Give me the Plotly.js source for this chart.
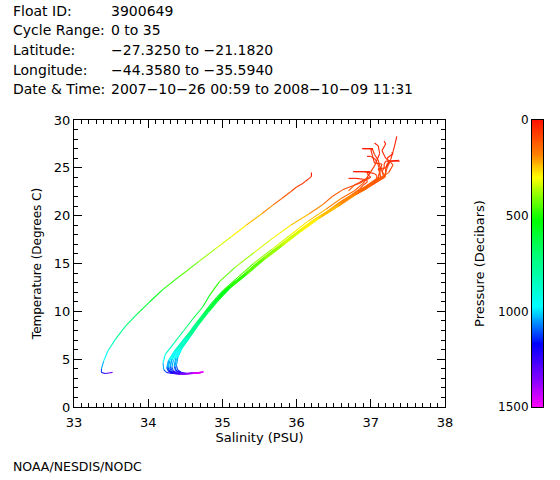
<!DOCTYPE html>
<html><head><meta charset="utf-8">
<script src="https://cdn.plot.ly/plotly-3.0.1.min.js"></script>
<style>html,body{margin:0;padding:0;background:#fff;}#chart{width:560px;height:480px;}</style>
</head><body><div id="chart"></div>
<script>
// Pressure levels (decibars) shared by the profiles
const PRES = [5,20,35,50,65,80,100,130,160,200,250,300,350,400,460,520,580,640,720,820,920,1000,1080,1150,1220,1290,1360,1430,1500];

const TEMP_L = [24.5,24.1,23.9,23.6,23.3,23.0,22.5,21.8,21.1,20.2,19.0,17.8,16.5,15.2,13.7,12.3,11.0,9.7,8.5,7.1,5.9,4.8,4.0,3.6,3.5,3.55,3.62];
const SAL_L  = [36.2,36.2,36.17,36.12,36.07,36.0,35.92,35.8,35.68,35.53,35.32,35.12,34.9,34.68,34.43,34.2,34.02,33.85,33.7,33.56,33.46,33.4,33.37,33.37,33.42,33.47,33.52];

const TEMP_M1 = [28.3,27.6,26.7,25.9,25.4,24.9,24.3,23.3,22.3,21.1,19.8,18.4,16.9,15.4,13.9,12.5,11.2,10.0,8.8,7.4,6.1,5.1,4.25,3.82,3.57,3.5,3.52,3.58,3.66];
const SAL_M1  = [37.35,37.33,37.3,37.27,37.22,37.2,37.2,37.0,36.79,36.56,36.29,36.04,35.79,35.54,35.31,35.09,34.93,34.8,34.68,34.55,34.43,34.37,34.35,34.37,34.42,34.5,34.58,34.66,34.74];
const TEMP_M2 = [27.0,27.0,26.4,25.8,25.2,24.7,24.1,23.1,22.1,20.9,19.6,18.2,16.7,15.2,13.7,12.3,11.0,9.8,8.6,7.2,5.9,4.9,4.15,3.78,3.54,3.47,3.49,3.54,3.6];
const SAL_M2  = [36.9,37.02,37.05,37.1,37.12,37.15,37.17,36.97,36.75,36.52,36.25,36.0,35.75,35.5,35.27,35.05,34.9,34.77,34.65,34.5,34.36,34.28,34.26,34.28,34.34,34.43,34.52,34.61,34.7];
const TEMP_M3 = [27.8,27.5,26.8,26.0,25.7,25.3,24.5,23.5,22.5,21.3,20.0,18.6,17.1,15.6,14.1,12.7,11.3,10.1,8.9,7.5,6.2,5.2,4.3,3.85,3.6,3.52,3.54,3.6,3.68];
const SAL_M3  = [37.18,37.2,37.15,37.2,37.25,37.3,37.24,37.04,36.83,36.6,36.33,36.08,35.83,35.57,35.34,35.12,34.95,34.82,34.7,34.58,34.46,34.4,34.38,34.4,34.45,34.52,34.6,34.68,34.75];
const TEMP_M4 = [26.2,26.2,25.9,25.6,25.3,24.8,24.0,23.1,22.2,21.0,19.7,18.3,16.8,15.3,13.8,12.4,11.1,9.9,8.7,7.3,6.0,5.0,4.2,3.8,3.55,3.48,3.5,3.55,3.62];
const SAL_M4  = [36.95,37.0,37.06,37.08,37.1,37.12,37.13,36.94,36.74,36.53,36.27,36.02,35.77,35.52,35.29,35.07,34.91,34.78,34.66,34.52,34.39,34.32,34.3,34.32,34.37,34.45,34.54,34.63,34.71];
const TEMP_M5 = [24.6,24.6,24.5,24.4,24.2,23.9,23.4,22.7,21.9,20.8,19.5,18.1,16.6,15.1,13.6,12.2,10.9,9.7,8.5,7.1,5.8,4.8,4.1,3.75,3.52,3.46,3.48,3.53,3.6];
const SAL_M5  = [36.78,36.9,36.98,37.05,37.08,37.08,37.05,36.92,36.72,36.5,36.22,35.97,35.72,35.47,35.25,35.03,34.88,34.75,34.63,34.48,34.35,34.27,34.25,34.27,34.33,34.42,34.51,34.6,34.69];
const TEMP_M6 = [25.8,25.7,25.7,25.4,25.0,24.6,24.1,23.2,22.2,21.0,19.7,18.3,16.8,15.3,13.8,12.4,11.1,9.9,8.7,7.3,6.0,5.0,4.2,3.8,3.55,3.48,3.5,3.56,3.64];
const SAL_M6  = [37.38,37.25,37.2,37.18,37.18,37.15,37.2,37.02,36.8,36.57,36.3,36.05,35.8,35.55,35.32,35.1,34.94,34.81,34.69,34.56,34.44,34.38,34.36,34.38,34.43,34.5,34.58,34.66,34.74];
const TEMP_M7 = [27.6,27.3,26.5,25.2,24.6,24.0,23.4,22.6,21.8,20.7,19.4,18.0,16.5,15.0,13.5,12.1,10.8,9.6,8.4,7.0,5.7,4.8,4.1,3.72,3.5,3.45,3.47,3.52,3.58];
const SAL_M7  = [37.05,37.1,37.12,37.05,37.0,36.95,36.9,36.78,36.6,36.4,36.15,35.92,35.67,35.42,35.2,35.0,34.85,34.73,34.61,34.49,34.36,34.29,34.27,34.29,34.34,34.43,34.52,34.61,34.7];
const TEMP_M8 = [23.9,23.9,23.8,23.7,23.5,23.2,22.8,22.2,21.5,20.5,19.3,17.9,16.5,15.0,13.5,12.1,10.8,9.6,8.4,7.0,5.7,4.8,4.1,3.72,3.5,3.45,3.47,3.52,3.58];
const SAL_M8  = [36.7,36.8,36.9,36.95,36.95,36.9,36.85,36.75,36.6,36.42,36.18,35.95,35.72,35.47,35.24,35.03,34.88,34.76,34.64,34.51,34.38,34.31,34.29,34.31,34.36,34.44,34.53,34.62,34.71];
const TEMP_M9 = [26.6,26.5,26.0,25.5,25.0,24.5,24.0,23.1,22.1,20.9,19.6,18.2,16.7,15.2,13.7,12.3,11.0,9.8,8.6,7.2,5.9,4.9,4.15,3.78,3.54,3.47,3.49,3.55,3.62];
const SAL_M9  = [37.28,37.3,37.22,37.25,37.22,37.2,37.18,36.98,36.76,36.54,36.27,36.02,35.77,35.52,35.29,35.07,34.91,34.78,34.66,34.54,34.41,34.34,34.32,34.34,34.39,34.47,34.56,34.65,34.73];
const TEMP_M10 = [24.0,23.9,23.8,23.6,23.4,23.1,22.7,22.0,21.2,20.2,19.0,17.6,16.1,14.6,13.1,11.7,10.4,9.2,8.0,6.7,5.5,4.6,3.9,3.6,3.5];
const SAL_M10  = [36.95,36.98,36.95,36.9,36.85,36.75,36.62,36.48,36.36,36.17,35.92,35.67,35.42,35.17,34.96,34.83,34.73,34.6,34.48,34.35,34.23,34.2,34.21,34.25,34.32];
// upper parts only (mixed layer wiggles)
const TEMP_M11 = [27.0,27.0,26.9,25.5,25.4,24.6,24.0,23.0,22.0,20.8];
const SAL_M11  = [36.88,37.03,37.0,37.05,37.15,37.12,37.1,36.92,36.72,36.5];
const TEMP_M12 = [25.7,25.7,25.6,25.0,24.9,24.5,23.9,23.0,22.0,20.8];
const SAL_M12  = [37.39,37.23,37.25,37.2,37.1,37.12,37.1,36.93,36.73,36.5];
const TEMP_M13 = [24.6,24.6,24.4,24.0,23.8,23.5,23.2,22.6];
const SAL_M13  = [36.76,36.99,36.95,37.0,36.92,36.85,36.78,36.7];

const PROFILES_T = [TEMP_L,TEMP_M10,TEMP_M8,TEMP_M5,TEMP_M7,TEMP_M2,TEMP_M4,TEMP_M9,TEMP_M6,TEMP_M1,TEMP_M3,TEMP_M11,TEMP_M12,TEMP_M13];
const PROFILES_S = [SAL_L,SAL_M10,SAL_M8,SAL_M5,SAL_M7,SAL_M2,SAL_M4,SAL_M9,SAL_M6,SAL_M1,SAL_M3,SAL_M11,SAL_M12,SAL_M13];

const HEADER_LABELS = ['Float ID:','Cycle Range:','Latitude:','Longitude:','Date & Time:'];
const HEADER_VALUES = ['3900649','0 to 35','\u221227.3250 to \u221221.1820','\u221244.3580 to \u221235.5940','2007\u221210\u221226 00:59 to 2008\u221210\u221209 11:31'];
const P_TICKS = [0,500,1000,1500];
const P_MAX = 1500;

const STOPS = [[0,[255,16,0]],[0.12,[255,128,0]],[0.2,[255,255,0]],[0.27,[128,255,0]],[0.35,[0,255,0]],[0.45,[0,255,100]],[0.65,[0,255,255]],[0.78,[0,0,255]],[0.9,[128,0,255]],[1,[255,0,255]]];
function colorAt(f){
  f=Math.max(0,Math.min(1,f));
  for(let i=0;i<STOPS.length-1;i++){
    const a=STOPS[i],b=STOPS[i+1];
    if(f<=b[0]){const t=(f-a[0])/(b[0]-a[0]);
      const c=a[1].map((v,k)=>Math.round(v+(b[1][k]-v)*t));
      return 'rgb('+c.join(',')+')';}
  }
  return 'rgb(255,0,255)';
}
const CSCALE = STOPS.map(s=>[s[0],'rgb('+s[1].join(',')+')']);

// group line segments by pressure colour
const NB=60; const bins=[];
for(let b=0;b<NB;b++) bins.push({x:[],y:[]});
PROFILES_T.forEach((T,pi)=>{
  const S=PROFILES_S[pi]; const n=Math.min(T.length,S.length);
  for(let i=0;i<n-1;i++){
    const mp=(PRES[i]+PRES[i+1])/2;
    const b=Math.min(NB-1,Math.floor(mp/P_MAX*NB));
    bins[b].x.push(S[i],S[i+1],null); bins[b].y.push(T[i],T[i+1],null);
  }
});
const traces=[];
bins.forEach((bn,b)=>{ if(bn.x.length) traces.push({type:'scatter',mode:'lines',x:bn.x,y:bn.y,
  line:{color:colorAt((b+0.5)/NB),width:1.1},hoverinfo:'skip',showlegend:false,xaxis:'x',yaxis:'y'});});

// colour bar drawn as a heatmap
const barY=[]; for(let v=0;v<=P_MAX;v+=5) barY.push(v);
traces.push({type:'heatmap',x:[0],y:barY,z:barY.map(v=>[v]),zmin:0,zmax:P_MAX,colorscale:CSCALE,
  showscale:false,hoverinfo:'skip',xaxis:'x2',yaxis:'y2'});

const W=560,H=480,ML=74,MR=17,MT=120,MB=73;
const PW=W-ML-MR, PH=H-MT-MB;
const px=x=>(x-ML)/PW, py=y=>(H-MB-y)/PH;
const FONT={family:'DejaVu Sans, sans-serif',size:12,color:'#000'};
const FONT13=Object.assign({},FONT,{size:13});
const HFONT=Object.assign({},FONT,{size:14});
const ann=[];
const rowY=[11,30,50,70,89];
HEADER_LABELS.forEach((t,i)=>{
  ann.push({text:t,xref:'paper',yref:'paper',x:px(11),y:py(rowY[i]),xanchor:'left',yanchor:'middle',showarrow:false,font:HFONT});
  ann.push({text:HEADER_VALUES[i],xref:'paper',yref:'paper',x:px(109),y:py(rowY[i]),xanchor:'left',yanchor:'middle',showarrow:false,font:HFONT});
});
ann.push({text:'NOAA/NESDIS/NODC',xref:'paper',yref:'paper',x:px(11),y:py(466),xanchor:'left',yanchor:'middle',showarrow:false,font:Object.assign({},FONT,{size:12.5})});

const axBase={showline:true,linecolor:'#000',linewidth:1,mirror:'ticks',ticks:'inside',ticklen:8,tickcolor:'#000',
  showgrid:false,zeroline:false,tickfont:FONT13};
const layout={width:W,height:H,margin:{l:ML,r:MR,t:MT,b:MB},paper_bgcolor:'#fff',plot_bgcolor:'#fff',
  showlegend:false,annotations:ann,font:FONT,
  xaxis:Object.assign({},axBase,{domain:[0,(445-ML)/PW],range:[33,38],dtick:1,tick0:33,ticklabelstandoff:3,
    minor:{dtick:0.1,ticks:'inside',ticklen:4,tickcolor:'#000',showgrid:false},
    title:{text:'Salinity (PSU)',font:FONT13,standoff:3}}),
  yaxis:Object.assign({},axBase,{domain:[0,1],range:[0,30],dtick:5,tick0:0,
    minor:{dtick:1,ticks:'inside',ticklen:4,tickcolor:'#000',showgrid:false},
    title:{text:'Temperature (Degrees C)',font:FONT,standoff:9}}),
  xaxis2:{domain:[(532-ML)/PW,(543-ML)/PW],anchor:'y2',range:[-0.5,0.5],showticklabels:false,ticks:'',
    showline:true,linecolor:'#000',mirror:true,showgrid:false,zeroline:false},
  yaxis2:{domain:[0,1],anchor:'x2',side:'left',range:[P_MAX,0],tickvals:P_TICKS,ticks:'',showline:true,
    linecolor:'#000',mirror:true,showgrid:false,zeroline:false,tickfont:FONT,
    title:{text:'Pressure (Decibars)',font:FONT13,standoff:10}}
};
Plotly.newPlot('chart',traces,layout,{staticPlot:true,displayModeBar:false});
</script></body></html>
